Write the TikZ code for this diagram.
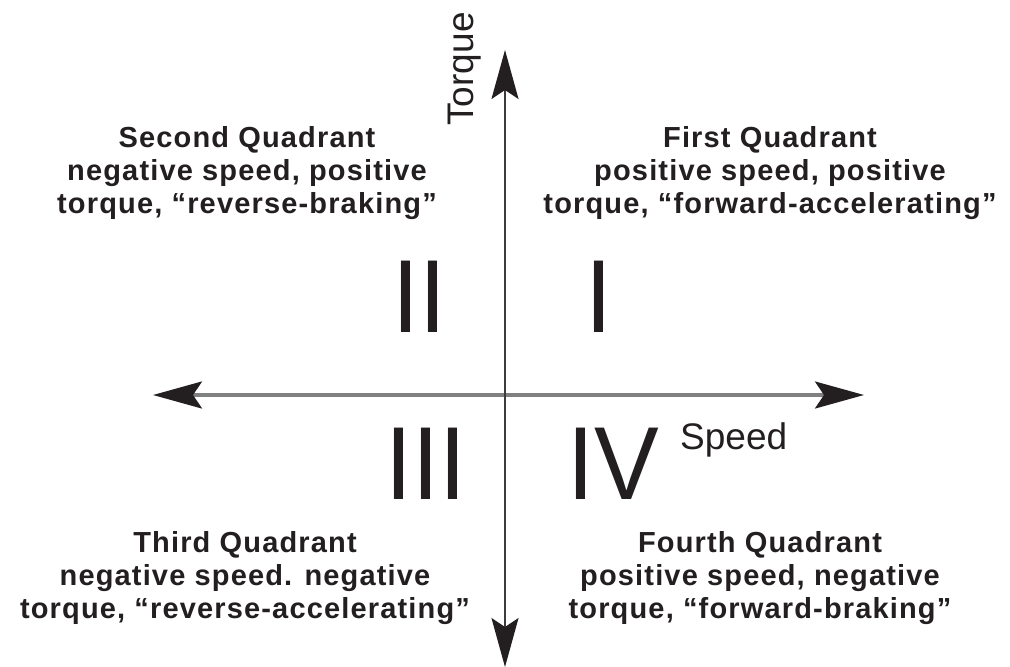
\documentclass[tikz,border=0pt]{standalone}
\usepackage{fontspec}
\setmainfont{Liberation Sans}
\newfontfamily\quadfont[LetterSpace=4]{Liberation Sans}
\usetikzlibrary{arrows.meta}
\definecolor{ink}{HTML}{231F20}
\definecolor{haxis}{HTML}{808080}
\definecolor{vaxis}{HTML}{3C3C3C}
\tikzset{
  tipA/.tip={Stealth[length=49pt,width=27pt,inset=9pt,ink]},
  hax/.style={draw=haxis,line width=3.2pt,tipA-tipA},
  vax/.style={draw=vaxis,line width=2pt,tipA-tipA},
  quadtext/.style={text=ink,inner sep=0pt,anchor=north,align=center,
    font={\quadfont\bfseries\fontsize{29}{33}\selectfont}},
  numeral/.style={text=ink,inner sep=0pt,anchor=center,
    font={\fontsize{97}{97}\selectfont}},
  axlabel/.style={text=ink,inner sep=0pt,font={\fontsize{37}{40}\selectfont}}
}
\begin{document}
\begin{tikzpicture}[x=1pt,y=-1pt]
\useasboundingbox[fill=white] (0,0) rectangle (1010,667);
% axes
\coordinate (L) at (153,395);
\coordinate (R) at (864,395);
\coordinate (T) at (505,50);
\coordinate (B) at (505,667);
\draw[hax] (L) -- (R);
\draw[vax] (B) -- (T);
% axis labels
\node[axlabel,rotate=90,anchor=base] (torque) at (473,69) {Torque};
\node[axlabel,anchor=base west] (speed) at (680,449) {Speed};
% numerals
\node[numeral] (nII) at (419,297) {\scalebox{1}[1.07]{II}};
\node[numeral] (nI) at (599,297) {\scalebox{1}[1.07]{I}};
\node[numeral] (nIII) at (426,464) {\scalebox{1}[1.07]{III}};
\node[numeral] (nIV) at (613,464) {\scalebox{1}[1.07]{IV}};
% quadrant descriptions
\node[quadtext] (q1) at (770,126) {First Quadrant\\positive speed, positive\\torque, “forward-accelerating”};
\node[quadtext] (q2) at (247,126) {Second Quadrant\\negative speed, positive\\torque, “reverse-braking”};
\node[quadtext] (q3) at (245,531) {Third Quadrant\\negative speed. negative\\torque, “reverse-accelerating”};
\node[quadtext] (q4) at (760,531) {Fourth Quadrant\\positive speed, negative\\torque, “forward-braking”};
\end{tikzpicture}
\end{document}
